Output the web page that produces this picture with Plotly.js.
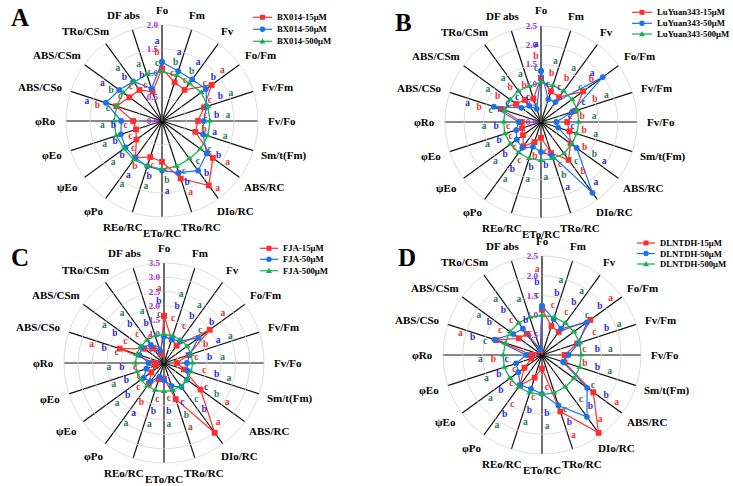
<!DOCTYPE html>
<html><head><meta charset="utf-8">
<script src="https://cdn.plot.ly/plotly-3.0.1.min.js"></script>
<style>html,body{margin:0;padding:0;background:#fff}#chart{width:733px;height:486px}</style>
</head><body><div id="chart"></div>
<script>
const categories = ['Fo','Fm','Fv','Fo/Fm','Fv/Fm','Fv/Fo','Sm/t(Fm)','ABS/RC','DIo/RC','TRo/RC','ETo/RC','REo/RC','φPo','ψEo','φEo','φRo','ABS/CSo','ABS/CSm','TRo/CSm','DF abs'];

const namesA = ['BX014-15μM','BX014-50μM','BX014-500μM'];
const namesB = ['LuYuan343-15μM','LuYuan343-50μM','LuYuan343-500μM'];
const namesC = ['FJA-15μM','FJA-50μM','FJA-500μM'];
const namesD = ['DLNTDH-15μM','DLNTDH-50μM','DLNTDH-500μM'];

const A15  = [1.09,0.85,0.80,1.28,0.92,0.75,0.73,1.31,1.66,1.26,0.85,0.79,0.94,0.66,0.57,0.60,1.00,0.84,0.80,0.64];
const A50  = [1.23,1.09,1.07,1.13,0.98,0.87,0.90,1.15,1.28,1.13,1.03,0.99,0.95,0.94,0.90,0.85,1.23,1.10,1.02,0.71];
const A500 = [1.03,1.00,0.97,1.01,1.00,1.00,1.00,0.99,0.97,0.99,1.00,0.98,1.00,0.98,1.00,1.00,0.99,1.00,1.00,1.02];

const B15  = [1.15,0.84,0.80,1.36,0.93,0.68,0.78,0.95,1.22,0.85,0.41,0.55,0.78,0.58,0.52,0.50,1.10,0.80,0.71,0.64];
const B50  = [1.33,0.62,0.64,1.99,0.85,0.40,0.47,1.15,2.28,0.92,0.78,0.68,0.83,0.78,0.68,0.58,1.29,0.63,0.52,0.36];
const B500 = [1.03,1.00,1.00,1.00,1.00,0.98,0.98,0.98,1.02,1.00,1.00,1.00,0.99,0.98,0.99,0.97,0.98,0.99,1.00,0.98];

const C15  = [1.65,0.87,0.75,1.98,0.90,0.45,0.73,1.58,3.02,1.33,0.55,0.60,0.90,0.55,0.30,0.33,1.63,0.85,0.65,0.35];
const C50  = [0.93,0.87,0.95,1.50,0.95,0.80,0.87,1.00,1.04,0.84,0.60,0.50,0.80,0.88,0.65,0.54,0.90,0.95,0.78,0.45];
const C500 = [1.00,1.00,1.00,1.00,1.00,1.00,1.00,1.00,1.00,1.00,1.00,1.00,1.00,1.00,1.00,1.00,1.00,1.00,1.00,1.00];

const D15  = [1.15,0.77,0.72,1.51,0.93,0.57,0.60,1.60,2.43,1.50,0.34,0.60,0.95,0.55,0.28,0.25,1.22,0.72,0.66,0.12];
const D50  = [1.24,0.95,0.82,1.40,0.97,0.67,0.56,1.41,1.93,1.34,0.98,0.90,0.93,0.74,0.69,0.40,1.26,0.90,0.82,0.15];
const D500 = [1.00,1.00,1.00,1.00,1.00,0.99,1.00,1.00,1.00,1.00,1.00,1.00,1.00,1.00,1.00,0.98,0.97,1.00,1.00,1.00];

const A15L  = ['b','c','c','a','c','c','b','a','a','a','c','c','b','c','c','c','b','c','c','c'];
const A50L  = ['a','a','a','b','b','b','a','b','b','b','a','b','a','b','b','b','a','a','b','b'];
const A500L = ['c','b','b','c','a','a','a','c','c','c','b','a','a','a','a','a','c','b','a','a'];

const B15L  = ['b','b','b','b','b','b','b','b','b','c','c','b','c','c','c','c','b','b','b','b'];
const B50L  = ['a','c','c','a','c','c','c','a','a','a','b','b','b','b','b','b','a','c','c','c'];
const B500L = ['c','a','a','c','a','a','a','b','c','b','a','a','a','a','a','a','c','a','a','a'];

const C15L  = ['a','c','c','a','b','c','c','a','a','a','c','c','b','c','c','c','a','c','c','c'];
const C50L  = ['b','b','b','b','a','b','b','c','b','c','b','b','a','b','b','b','b','b','b','b'];
const C500L = ['c','a','a','c','a','a','a','b','c','b','a','a','a','a','a','a','c','a','a','a'];

const D15L  = ['a','c','c','a','c','c','b','a','a','a','c','c','c','c','c','b','a','c','c','c'];
const D50L  = ['b','b','b','b','b','b','b','b','b','b','b','b','b','b','b','c','b','b','b','b'];
const D500L = ['c','a','a','c','a','a','a','c','c','c','a','a','a','a','a','a','c','a','a','a'];

const W = 733, H = 486;
const SERIF = 'Liberation Serif, Times New Roman, serif';
const lineColors = ['#ff2e2e','#1a72e8','#15b052'];
const letterColors = ['#e8302a','#2b2bd6','#2a7a5a'];
const symbols = ['square','circle','triangle-up'];
const LABEL_SIZE = 11;

const panels = [
  {id:'polar',  tag:'A', names:namesA, vals:[A15,A50,A500], letters:[A15L,A50L,A500L], rmax:2.0, cx:162, cy:121, R:96,
   letterOff:8, letterGap:11,
   leg:{x0:253,x1:272,tx:275,ys:[17.3,29.3,41.3]}, tagPos:[20,17]},
  {id:'polar2', tag:'B', names:namesB, vals:[B15,B50,B500], letters:[B15L,B50L,B500L], rmax:2.5, cx:541, cy:122, R:96,
   letterOff:14, letterGap:12,
   leg:{x0:632,x1:652,tx:655,ys:[12.3,23.3,34]}, tagPos:[403,22]},
  {id:'polar3', tag:'C', names:namesC, vals:[C15,C50,C500], letters:[C15L,C50L,C500L], rmax:3.5, cx:164, cy:363, R:100,
   letterOff:20, letterGap:13,
   leg:{x0:260,x1:278,tx:281,ys:[248.3,259.3,270.7]}, tagPos:[20,257]},
  {id:'polar4', tag:'D', names:namesD, vals:[D15,D50,D500], letters:[D15L,D50L,D500L], rmax:2.5, cx:542, cy:355, R:99,
   letterOff:20, letterGap:13,
   leg:{x0:637,x1:655,tx:658,ys:[243,253.5,264]}, tagPos:[407,257]}
];

const N = categories.length;
const thetas = categories.map((_, i) => i * 360 / N);
const close = a => a.concat([a[0]]);
const rank = {c:0, b:1, a:2};

const ctx = document.createElement('canvas').getContext('2d');
ctx.font = 'bold ' + LABEL_SIZE + 'px "Liberation Serif"';
const labelW = categories.map(c => ctx.measureText(c).width);

const traces = [];
const layout = {
  width: W, height: H,
  margin: {l:0, r:0, t:0, b:0},
  paper_bgcolor: '#fff',
  showlegend: false,
  shapes: [], annotations: []
};
const px = x => x / W, py = y => 1 - y / H;

panels.forEach(p => {
  const pxu = p.R / p.rmax;
  p.vals.forEach((v, k) => {
    traces.push({
      type:'scatterpolar', subplot:p.id, name:p.names[k],
      r: close(v), theta: close(thetas),
      mode:'lines+markers', cliponaxis:false, hoverinfo:'skip',
      line:{color:lineColors[k], width:1.2},
      marker:{symbol:symbols[k], size: k===2 ? 6 : 5.8, color:lineColors[k]}
    });
  });
  const lr = [[],[],[]], lt = [[],[],[]];
  for (let i = 0; i < N; i++) {
    const order = [0,1,2].sort((a,b) => (rank[p.letters[a][i]]*3 + a) - (rank[p.letters[b][i]]*3 + b));
    let prev = -1e9;
    order.forEach(k => {
      let r = Math.max(p.vals[k][i]*pxu + p.letterOff, prev + p.letterGap);
      prev = r;
      let side = 5;
      if (r > p.R - 6) {           // keep letters inside the outer ring, set beside their point
        r = Math.min(p.vals[k][i]*pxu, p.R - 6) - 6;
        side = 9;
      }
      lr[k][i] = r / pxu;
      lt[k][i] = thetas[i] - (side / r) * 180 / Math.PI;
    });
  }
  [0,1,2].forEach(k => {
    traces.push({
      type:'scatterpolar', subplot:p.id, mode:'text', hoverinfo:'skip', cliponaxis:false,
      r: lr[k], theta: lt[k], text: p.letters[k],
      textfont:{family:SERIF, size:9.5, color:letterColors[k], weight:'bold'}
    });
  });
  thetas.forEach((t, i) => {
    const a = t * Math.PI / 180, ux = Math.sin(a), uy = -Math.cos(a);
    const g = p.R + 10;
    const x = p.cx + g*ux + ux*labelW[i]/2;
    const y = p.cy + g*uy + uy*LABEL_SIZE*0.5;
    layout.annotations.push({
      xref:'paper', yref:'paper', x:px(x), y:py(y),
      xanchor:'center', yanchor:'middle', showarrow:false,
      text:'<b>'+categories[i]+'</b>', font:{family:SERIF, size:LABEL_SIZE, color:'#000'}
    });
  });
  layout[p.id] = {
    domain:{x:[px(p.cx - p.R), px(p.cx + p.R)], y:[py(p.cy + p.R), py(p.cy - p.R)]},
    gridshape:'linear',
    bgcolor:'rgba(0,0,0,0)',
    radialaxis:{
      range:[0, p.rmax], tick0:0, dtick:0.5, tickformat:'.1f',
      angle:90, side:'counterclockwise', tickangle:90,
      showline:true, linecolor:'#666', linewidth:1.5,
      showgrid:true, gridcolor:'#d4d4d4', gridwidth:0.8,
      ticks:'', layer:'below traces',
      tickfont:{family:SERIF, size:9, color:'#9b30d0', weight:'bold'}
    },
    angularaxis:{
      type:'linear', tickmode:'array', tickvals:thetas,
      direction:'clockwise', rotation:90,
      showgrid:true, gridcolor:'#111', gridwidth:1.2,
      showline:true, linecolor:'#d4d4d4', linewidth:0.8,
      ticks:'', showticklabels:false,
      layer:'below traces'
    }
  };
  layout.annotations.push({
    xref:'paper', yref:'paper', x:px(p.tagPos[0]), y:py(p.tagPos[1]),
    xanchor:'center', yanchor:'middle', showarrow:false,
    text:'<b>'+p.tag+'</b>', font:{family:SERIF, size:25, color:'#000'}
  });
  p.names.forEach((nm, k) => {
    const y = py(p.leg.ys[k]);
    layout.shapes.push({type:'line', xref:'paper', yref:'paper',
      x0:px(p.leg.x0), x1:px(p.leg.x1), y0:y, y1:y, line:{color:lineColors[k], width:1.2}});
    const xm = px((p.leg.x0 + p.leg.x1)/2);
    const base = {xref:'paper', yref:'paper', xsizemode:'pixel', ysizemode:'pixel', xanchor:xm, yanchor:y,
      fillcolor:lineColors[k], line:{width:0}};
    if (k === 0) layout.shapes.push(Object.assign({type:'rect', x0:-2.5, x1:2.5, y0:-2.5, y1:2.5}, base));
    else if (k === 1) layout.shapes.push(Object.assign({type:'circle', x0:-2.7, x1:2.7, y0:-2.7, y1:2.7}, base));
    else layout.shapes.push(Object.assign({type:'path', path:'M -3,-2.2 L 3,-2.2 L 0,3 Z'}, base));
    layout.annotations.push({
      xref:'paper', yref:'paper', x:px(p.leg.tx), y:y, xanchor:'left', yanchor:'middle',
      showarrow:false, text:'<b>'+nm+'</b>', font:{family:SERIF, size:8.7, color:'#000'}
    });
  });
});

Plotly.newPlot('chart', traces, layout, {staticPlot:true, displayModeBar:false});
</script>
</body></html>
